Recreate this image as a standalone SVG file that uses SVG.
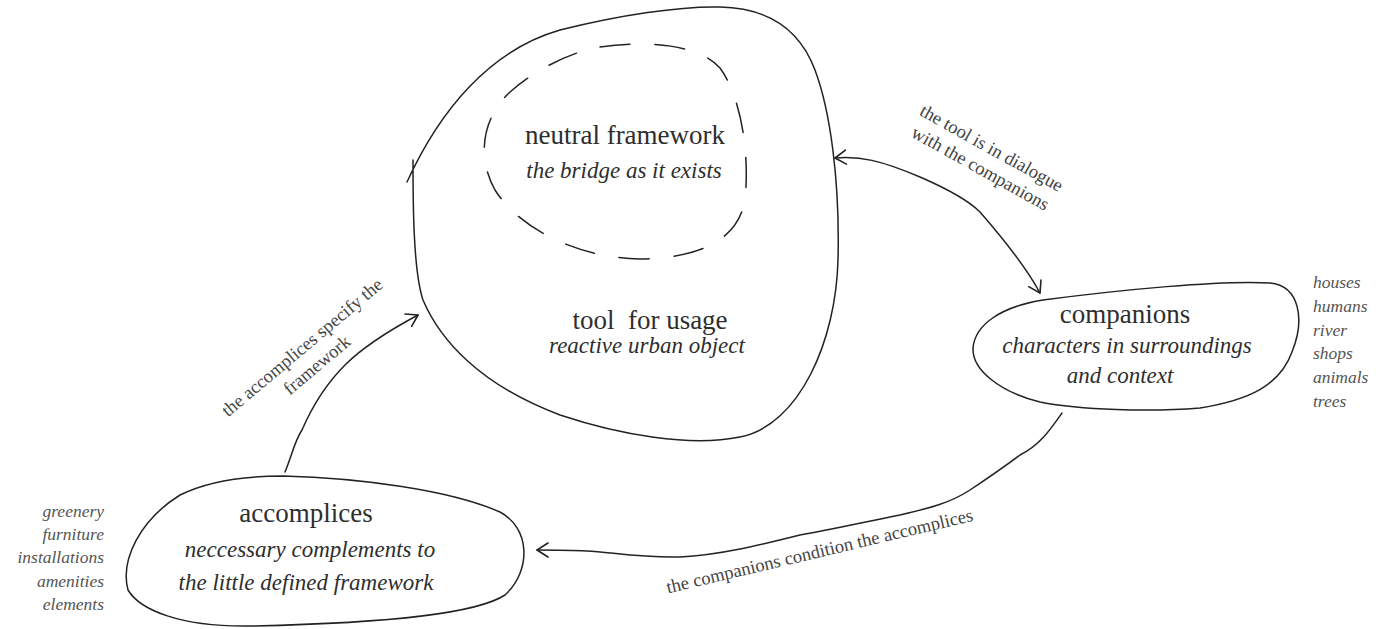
<svg xmlns="http://www.w3.org/2000/svg" width="1398" height="629" viewBox="0 0 1398 629">
<style>
.blob{fill:none;stroke:#222;stroke-width:1.5;stroke-linecap:round;stroke-linejoin:round}
.dash{fill:none;stroke:#222;stroke-width:1.5;stroke-dasharray:30 25;stroke-linecap:round}
.conn{fill:none;stroke:#222;stroke-width:1.5;stroke-linecap:round}
.t{fill:#2e2e2e;text-anchor:middle}
.up{font-size:27px}
.it{font-size:23px;font-style:italic}
.lab{fill:#444;font-size:18.5px;text-anchor:middle}
.list{fill:#555;font-size:17.5px;font-style:italic}
</style>
<defs>
<marker id="arr" viewBox="-12 -8 14 16" markerWidth="14" markerHeight="16" refX="0" refY="0" orient="auto-start-reverse" markerUnits="userSpaceOnUse">
<path d="M -11,-7 L 0,0 L -11,7" fill="none" stroke="#222" stroke-width="1.6" stroke-linecap="round" stroke-linejoin="round"/>
</marker>
</defs>
<g font-family="Liberation Serif, Times New Roman, serif">
<g id="tool">
<path class="blob" d="M 407,182 C 440,110 490,50 560,30 C 620,15 680,6 720,7 C 770,8 800,30 815,70 C 830,110 840,180 838,260 C 836,340 800,425 740,437 C 690,447 620,435 560,415 C 480,385 440,340 423,300 C 413,270 413,200 413,160"/>
<path class="dash" d="M 600,47 C 650,40 700,45 720,68 C 740,95 750,150 745,200 C 738,240 700,258 640,259 C 580,258 520,230 495,190 C 478,160 480,120 510,92 C 535,70 570,52 600,47 Z"/>
<text class="t up" x="625" y="144">neutral framework</text>
<text class="t it" x="624" y="178">the bridge as it exists</text>
<text class="t up" x="650" y="329" xml:space="preserve">tool  for usage</text>
<text class="t it" x="647" y="353">reactive urban object</text>
</g>

<g id="companions">
<path class="blob" d="M 1043,300 C 1120,290 1220,280 1270,283 C 1300,286 1305,320 1292,352 C 1280,385 1250,400 1200,408 C 1150,412 1080,410 1040,402 C 1000,392 972,370 973,348 C 975,325 1000,307 1043,300 Z"/>
<text class="t up" x="1125" y="323">companions</text>
<text class="t it" x="1127" y="353">characters in surroundings</text>
<text class="t it" x="1120" y="383">and context</text>
<g class="list">
<text x="1313" y="288">houses</text>
<text x="1313" y="312">humans</text>
<text x="1313" y="336">river</text>
<text x="1313" y="359">shops</text>
<text x="1313" y="383">animals</text>
<text x="1313" y="407">trees</text>
</g>
</g>

<g id="accomplices">
<path class="blob" d="M 283,476 C 360,478 450,490 500,512 C 530,528 532,570 505,595 C 470,618 350,624 250,626 C 180,627 140,610 128,590 C 120,560 140,520 180,495 C 210,480 250,476 283,476 Z"/>
<text class="t up" x="306" y="522">accomplices</text>
<text class="t it" x="310" y="557">neccessary complements to</text>
<text class="t it" x="306" y="590">the little defined framework</text>
<g class="list" text-anchor="end">
<text x="104" y="517" text-anchor="end">greenery</text>
<text x="104" y="540" text-anchor="end">furniture</text>
<text x="104" y="563" text-anchor="end">installations</text>
<text x="104" y="587" text-anchor="end">amenities</text>
<text x="104" y="610" text-anchor="end">elements</text>
</g>
</g>

<g id="connectors">
<path class="conn" marker-start="url(#arr)" marker-end="url(#arr)" d="M 835,158 C 860,156 880,160 920,177 C 950,190 968,200 980,212 C 1000,235 1025,265 1040,293"/>
<path class="conn" marker-end="url(#arr)" d="M 285,472 C 292,455 295,440 302,430 C 315,400 330,380 345,365 C 365,345 390,330 418,315"/>
<path class="conn" marker-end="url(#arr)" d="M 1062,413 C 1050,430 1040,445 1020,455 C 1000,470 985,480 970,490 C 950,503 930,508 900,515 C 860,523 830,530 800,535 C 760,545 720,555 680,557 C 640,558 610,552 587,551 C 570,550 550,550 537,550"/>
<g transform="translate(988.6,153.4) rotate(29)">
<text class="lab" x="0" y="0">the tool is in dialogue</text>
<text class="lab" x="0" y="23">with the companions</text>
</g>
<g transform="translate(306,352) rotate(-40)">
<text class="lab" x="0" y="0">the accomplices specify the</text>
<text class="lab" x="0" y="23">framework</text>
</g>
<text class="lab" transform="translate(821,557) rotate(-13.4)">the companions condition the accomplices</text>
</g>
</g>
</svg>
